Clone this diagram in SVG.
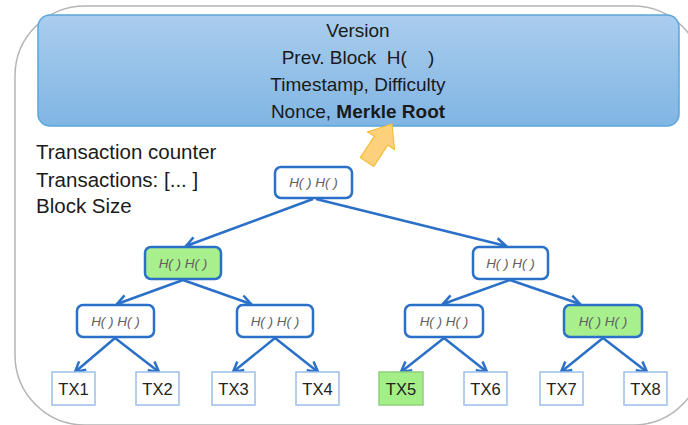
<svg xmlns="http://www.w3.org/2000/svg" width="688" height="425" viewBox="0 0 688 425">
<defs>
<linearGradient id="hdr" x1="0" y1="0" x2="0" y2="1">
<stop offset="0" stop-color="#aacdee"/>
<stop offset="1" stop-color="#80b5e3"/>
</linearGradient>
<marker id="ah" markerUnits="userSpaceOnUse" markerWidth="14" markerHeight="14" viewBox="-12 -7 14 14" refX="0" refY="0" orient="auto">
<path d="M-10,-5.5 L0,0 L-10,5.5" fill="none" stroke="#2a70c8" stroke-width="2.5" stroke-linejoin="miter"/>
</marker>
<style>
.hd{font-family:"Liberation Sans",Arial,sans-serif;font-size:19px;fill:#1a1a1a;text-anchor:middle}
.lt{font-family:"Liberation Sans",Arial,sans-serif;font-size:20.5px;fill:#1a1a1a}
.nd{fill:#ffffff;stroke:#2a70c8;stroke-width:2.5}
.gr{fill:#a8ef8e}
.nt{font-family:"Liberation Sans",Arial,sans-serif;font-size:13.5px;font-style:italic;fill:#606060;text-anchor:middle}
.tx{fill:#ffffff;stroke:#9cbfe9;stroke-width:1.5}
.tt{font-family:"Liberation Sans",Arial,sans-serif;font-size:16.5px;fill:#222222;text-anchor:middle}
.cn{stroke:#2a70c8;stroke-width:2.5;fill:none;marker-end:url(#ah)}
</style>
</defs>
<rect width="688" height="425" fill="#ffffff"/>
<g id="frame">
<rect x="15" y="6" width="688" height="419" rx="70" ry="70" fill="none" stroke="#b4b4b4" stroke-width="1.5"/>
</g>
<g id="header">
<rect x="38" y="15" width="641" height="111" rx="12" ry="12" fill="url(#hdr)" stroke="#5aa6dc" stroke-width="1.5"/>
<text class="hd" x="358" y="37">Version</text>
<text class="hd" x="358" y="64" xml:space="preserve">Prev. Block  H(    )</text>
<text class="hd" x="358" y="91">Timestamp, Difficulty</text>
<text class="hd" x="358" y="118">Nonce, <tspan font-weight="bold">Merkle Root</tspan></text>
</g>
<g id="info">
<text class="lt" x="36" y="159">Transaction counter</text>
<text class="lt" x="36" y="187">Transactions: [... ]</text>
<text class="lt" x="36" y="213">Block Size</text>
</g>
<g id="pointer">
<path d="M392,124 L394.5,149.5 L387.7,145.1 L373.7,166.4 L360.3,157.6 L374.3,136.3 L367.6,131.9 Z" fill="#fdd17c" stroke="#f5bd3c" stroke-width="1.2" stroke-linejoin="miter"/>
</g>
<g id="connectors">
<line class="cn" x1="313" y1="199" x2="186" y2="246"/>
<line class="cn" x1="316" y1="199" x2="506" y2="246"/>
<line class="cn" x1="183" y1="280" x2="117" y2="304"/>
<line class="cn" x1="183" y1="280" x2="251" y2="304"/>
<line class="cn" x1="510" y1="280" x2="443" y2="304"/>
<line class="cn" x1="510" y1="280" x2="580" y2="304"/>
<line class="cn" x1="115" y1="338" x2="75" y2="372"/>
<line class="cn" x1="115" y1="338" x2="159" y2="372"/>
<line class="cn" x1="275" y1="338" x2="233" y2="372"/>
<line class="cn" x1="275" y1="338" x2="318" y2="372"/>
<line class="cn" x1="444" y1="338" x2="401" y2="372"/>
<line class="cn" x1="444" y1="338" x2="487" y2="372"/>
<line class="cn" x1="603" y1="338" x2="561" y2="372"/>
<line class="cn" x1="603" y1="338" x2="647" y2="372"/>
</g>
<g id="root"><rect class="nd" x="275" y="167" width="77" height="31" rx="6"/><text class="nt" x="313.5" y="187">H( ) H( )</text></g>
<g id="h12"><rect class="nd gr" x="145" y="247" width="76" height="32" rx="6"/><text class="nt" x="183" y="267.5">H( ) H( )</text></g>
<g id="h34"><rect class="nd" x="473" y="247" width="75" height="32" rx="6"/><text class="nt" x="510.5" y="267.5">H( ) H( )</text></g>
<g id="h1"><rect class="nd" x="77" y="305" width="77" height="32" rx="6"/><text class="nt" x="115.5" y="325.5">H( ) H( )</text></g>
<g id="h2"><rect class="nd" x="237" y="305" width="76" height="32" rx="6"/><text class="nt" x="275" y="325.5">H( ) H( )</text></g>
<g id="h3"><rect class="nd" x="405" y="305" width="78" height="32" rx="6"/><text class="nt" x="444" y="325.5">H( ) H( )</text></g>
<g id="h4"><rect class="nd gr" x="564" y="305" width="78" height="32" rx="6"/><text class="nt" x="603" y="325.5">H( ) H( )</text></g>
<g id="tx1"><rect class="tx" x="52" y="372" width="43" height="33"/><text class="tt" x="73.5" y="394.5">TX1</text></g>
<g id="tx2"><rect class="tx" x="136" y="372" width="43" height="33"/><text class="tt" x="157.5" y="394.5">TX2</text></g>
<g id="tx3"><rect class="tx" x="212" y="372" width="43" height="33"/><text class="tt" x="233.5" y="394.5">TX3</text></g>
<g id="tx4"><rect class="tx" x="296" y="372" width="43" height="33"/><text class="tt" x="317.5" y="394.5">TX4</text></g>
<g id="tx5"><rect class="tx" x="379" y="372" width="44" height="33" style="fill:#a4ee88;stroke:#8fcf7a"/><text class="tt" x="401" y="394.5">TX5</text></g>
<g id="tx6"><rect class="tx" x="464" y="372" width="43" height="33"/><text class="tt" x="485.5" y="394.5">TX6</text></g>
<g id="tx7"><rect class="tx" x="540" y="372" width="43" height="33"/><text class="tt" x="561.5" y="394.5">TX7</text></g>
<g id="tx8"><rect class="tx" x="624" y="372" width="43" height="33"/><text class="tt" x="645.5" y="394.5">TX8</text></g>
</svg>
